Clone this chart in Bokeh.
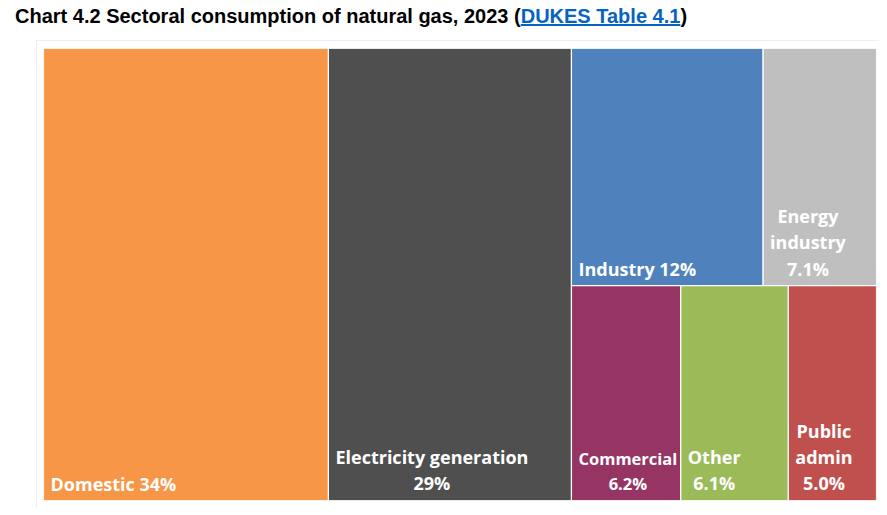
from bokeh.plotting import figure
from bokeh.models import ColumnDataSource, Div, Spacer, Range1d
from bokeh.layouts import column, row
from bokeh.core.properties import value
from bokeh.embed import file_html
from bokeh.resources import INLINE

# ---- data ----
sectors = ["Domestic", "Electricity generation", "Industry", "Energy industry",
           "Commercial", "Other", "Public admin"]
shares = [34, 29, 12, 7.1, 6.2, 6.1, 5.0]
labels = ["Domestic 34%", "Electricity generation\n29%", "Industry 12%",
          "Energy\nindustry\n7.1%", "Commercial\n6.2%", "Other\n6.1%",
          "Public\nadmin\n5.0%"]
colors = ["#F79646", "#4F4F4F", "#4F81BD", "#BFBFBF", "#963464", "#9BBB59", "#C0504D"]
font_sizes = ["18px", "18px", "18px", "18px", "16.5px", "18px", "18px"]

# ---- treemap layout (computed from the shares) ----
total = sum(shares)
left, right, bottom, top = [], [], [], []
x = 0.0
for s in shares[:2]:
    left.append(x); right.append(x + s); bottom.append(0.0); top.append(1.0)
    x += s
rest = total - x
top_row = shares[2:4]
bot_row = shares[4:]
split = sum(bot_row) / rest
xx = x
for s in top_row:
    w = s / sum(top_row) * rest
    left.append(xx); right.append(xx + w); bottom.append(split); top.append(1.0)
    xx += w
xx = x
for s in bot_row:
    w = s / sum(bot_row) * rest
    left.append(xx); right.append(xx + w); bottom.append(0.0); top.append(split)
    xx += w

src = ColumnDataSource(dict(left=left, right=right, bottom=bottom, top=top,
                            color=colors, label=labels, size=font_sizes, name=sectors))

p = figure(width=843, height=468, output_backend="svg", toolbar_location=None,
           x_range=Range1d(0, total), y_range=Range1d(0, 1),
           x_axis_type=None, y_axis_type=None,
           min_border_left=7, min_border_right=3, min_border_top=8, min_border_bottom=8)
p.grid.visible = False
p.outline_line_color = None
p.background_fill_color = "white"
p.border_fill_color = "white"
p.styles = {"outline": "1px solid #e9e9e9", "outline-offset": "-1px"}

p.quad(left="left", right="right", bottom="bottom", top="top", source=src,
       fill_color="color", line_color="white", line_width=1.2)

p.text(x="left", y="bottom", text="label", source=src,
       anchor=value("bottom_left"), text_align="center",
       x_offset=7, y_offset=-5,
       text_color="white", text_font=value("Open Sans"), text_font_style="bold",
       text_font_size="size", text_line_height=1.1)

title = Div(text=(
    '<div style="position:relative; top:0px; left:10px; white-space:nowrap; '
    'font-family:\'Liberation Sans\', Arial, sans-serif; font-weight:bold; '
    'font-size:20px; line-height:22px; color:#000;">'
    'Chart 4.2 Sectoral consumption of natural gas, 2023 ('
    '<span style="color:#0563C1; text-decoration:underline;">DUKES Table 4.1</span>)'
    '</div>'), width=780, height=30)

layout = column(title, row(Spacer(width=36, height=468), p))

open("out.html", "w").write(file_html(layout, INLINE))
